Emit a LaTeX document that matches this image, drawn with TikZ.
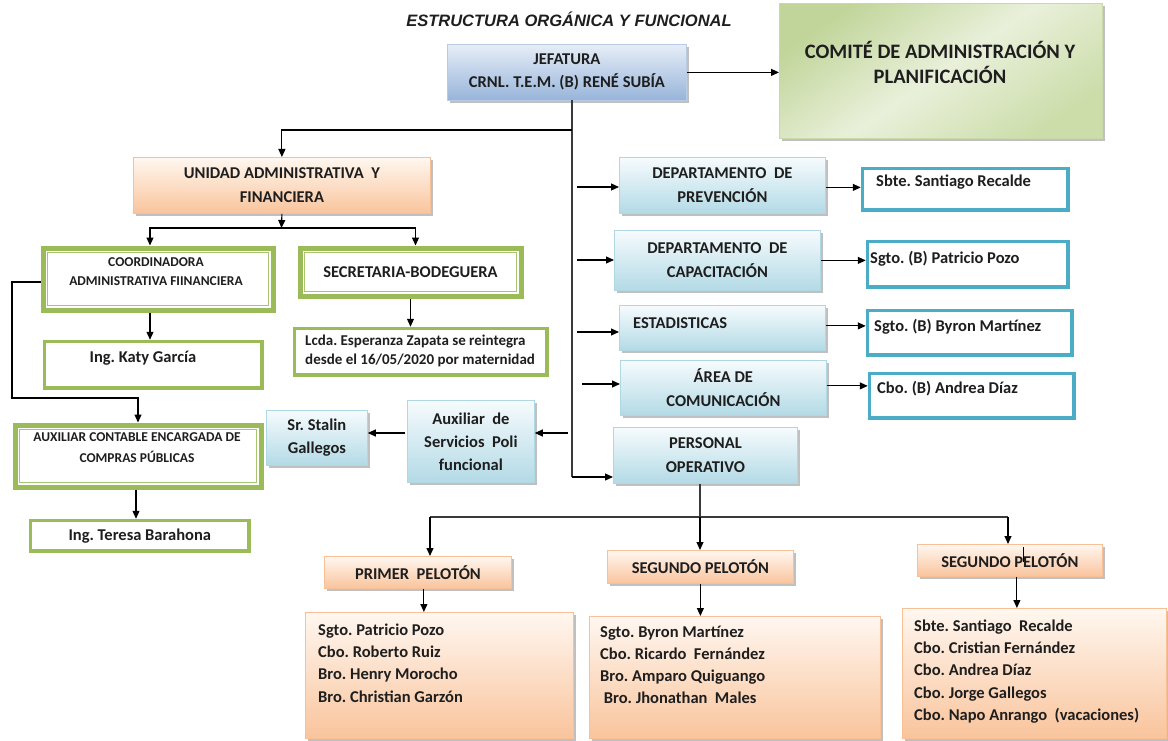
\documentclass[tikz,border=0pt]{standalone}
\usepackage{fontspec}
\setmainfont{Carlito}
\newfontfamily\ttlfont{Liberation Sans}
\usetikzlibrary{arrows.meta,shadows}
\frenchspacing
\definecolor{txt}{HTML}{1E1E1E}
\definecolor{grn}{HTML}{9BBB59}
\definecolor{grnin}{HTML}{A9C46F}
\definecolor{tealb}{HTML}{4BACC6}
\definecolor{btop}{HTML}{F6FBFD}
\definecolor{bbot}{HTML}{B3DAE6}
\definecolor{bline}{HTML}{B0D8E4}
\definecolor{jtop}{HTML}{E6EDF7}
\definecolor{jbot}{HTML}{97B4DA}
\definecolor{jline}{HTML}{B8CCE4}
\definecolor{otop}{HTML}{FFF7F0}
\definecolor{obot}{HTML}{F9C49C}
\definecolor{oline}{HTML}{F8C096}
\definecolor{ctop}{HTML}{C1D59A}
\definecolor{cmid}{HTML}{E9F0DA}
\definecolor{cbot}{HTML}{CCDDAA}
\definecolor{cline}{HTML}{C9D9A8}
\definecolor{lcol}{HTML}{3A3A3A}
\newcommand\dblin[1]{\draw[grnin, line width=1.3pt] ([shift={(7,7)}]#1.north west) rectangle ([shift={(-7,-7)}]#1.south east);}
\begin{document}
\begin{tikzpicture}[x=1pt,y=-1pt,
 bx/.style={inner sep=0pt, anchor=north west, align=center, text=txt, font=\bfseries\fontsize{16.5}{24}\selectfont},
 shd/.style={drop shadow={shadow xshift=2.5pt, shadow yshift=-2.5pt, fill=black!55, opacity=0.45}},
 blueb/.style={bx, shd, top color=btop, bottom color=bbot, draw=bline, line width=0.8pt},
 jefb/.style={bx, shd, top color=jtop, bottom color=jbot, draw=jline, line width=0.8pt},
 orab/.style={bx, shd, top color=otop, bottom color=obot, draw=oline, line width=0.8pt},
 comb/.style={bx, shd, top color=ctop, bottom color=cbot, middle color=cmid, shading angle=35, draw=cline, line width=0.8pt},
 grb/.style={bx, draw=grn, line width=3.5pt, fill=white},
 dgrb/.style={bx, draw=grn, line width=5pt, fill=white},
 tlb/.style={bx, draw=tealb, line width=3.5pt, fill=white},
 lbl/.style={inner sep=0pt, text=txt, align=left, font=\bfseries\fontsize{16.5}{22.3}\selectfont},
 arr/.style={draw=black, line width=1.1pt, -{Triangle[length=8pt,width=7pt]}},
 ln/.style={draw=lcol, line width=1.1pt}]
\useasboundingbox (0,0) rectangle (1168,741);

% title
\node[inner sep=0pt, text=txt, font=\ttlfont\bfseries\itshape\fontsize{16.5}{20}\selectfont] (title) at (569,19) {ESTRUCTURA ORGÁNICA Y FUNCIONAL};

% top
\node[jefb, minimum width=239pt, minimum height=56pt, font=\bfseries\fontsize{16.5}{23}\selectfont] (jef) at (447,44) {JEFATURA\\CRNL. T.E.M. (B) RENÉ SUBÍA};
\node[comb, minimum width=323pt, minimum height=135pt] (com) at (779,3) {};
\node[lbl, align=center, font=\bfseries\fontsize{20.5}{25}\selectfont] (comt) at (940,62) {COMITÉ DE ADMINISTRACIÓN Y\\PLANIFICACIÓN};

% left branch
\node[orab, minimum width=297pt, minimum height=56pt] (uni) at (133,157) {UNIDAD ADMINISTRATIVA\ \ Y\\FINANCIERA};
\node[dgrb, minimum width=230pt, minimum height=62pt] (coor) at (40.5,245.5) {};
\dblin{coor}
\node[lbl, align=center, font=\bfseries\fontsize{13.5}{19}\selectfont] (coort) at (156,271.5) {COORDINADORA\\ADMINISTRATIVA FIINANCIERA};
\node[dgrb, minimum width=221pt, minimum height=48pt] (sec) at (297.5,245.5) {SECRETARIA-BODEGUERA};
\dblin{sec}
\node[grb, minimum width=252.5pt, minimum height=46.5pt] (lcda) at (292.75,326.75) {};
\node[lbl, anchor=north west, font=\bfseries\fontsize{15}{19}\selectfont] (lcdat) at (305,334.5) {Lcda. Esperanza Zapata se reintegra\\desde el 16/05/2020 por maternidad};
\node[grb, minimum width=217.5pt, minimum height=46.5pt] (katy) at (42.75,339.75) {};
\node[lbl, anchor=base] (katyt) at (143,362.5) {Ing. Katy García};
\node[dgrb, minimum width=246pt, minimum height=62pt] (auxc) at (12.5,422.5) {};
\dblin{auxc}
\node[lbl, align=center, font=\bfseries\fontsize{13.5}{21}\selectfont] (auxct) at (137,447.5) {AUXILIAR CONTABLE ENCARGADA DE\\COMPRAS PÚBLICAS};
\node[grb, minimum width=218.5pt, minimum height=30.5pt] (ter) at (28.75,518.75) {Ing. Teresa Barahona};
\node[blueb, minimum width=101pt, minimum height=55pt, font=\bfseries\fontsize{16.5}{23}\selectfont] (stal) at (266,410) {Sr. Stalin\\Gallegos};
\node[blueb, minimum width=127pt, minimum height=82pt, font=\bfseries\fontsize{16.5}{23}\selectfont] (serv) at (407,400) {Auxiliar\ \ de\\Servicios\ \ Poli\\funcional};

% right branch
\node[blueb, minimum width=206pt, minimum height=56pt] (prev) at (619,157) {DEPARTAMENTO\ \ DE\\PREVENCIÓN};
\node[tlb, minimum width=205.5pt, minimum height=41.5pt] (sbte) at (860.75,166.75) {};
\node[lbl, anchor=base west] (sbtet) at (876,186.5) {Sbte. Santiago Recalde};
\node[blueb, minimum width=206pt, minimum height=60pt] (cap) at (614,230) {DEPARTAMENTO\ \ DE\\CAPACITACIÓN};
\node[tlb, minimum width=200.5pt, minimum height=45.5pt] (pat) at (865.75,239.75) {};
\node[lbl, anchor=base west] (patt) at (870,263.5) {Sgto. (B) Patricio Pozo};
\node[blueb, minimum width=206pt, minimum height=45pt] (est) at (619,305) {};
\node[lbl, anchor=base west] (estt) at (633,328.5) {ESTADISTICAS};
\node[tlb, minimum width=204.5pt, minimum height=44.5pt] (byr) at (865.75,308.75) {};
\node[lbl, anchor=base west] (byrt) at (874,331.5) {Sgto. (B) Byron Martínez};
\node[blueb, minimum width=206pt, minimum height=55pt] (area) at (620,360) {ÁREA DE\\COMUNICACIÓN};
\node[tlb, minimum width=204.5pt, minimum height=44.5pt] (andr) at (867.75,371.75) {};
\node[lbl, anchor=base west] (andrt) at (877,393.5) {Cbo. (B) Andrea Díaz};
\node[blueb, minimum width=184pt, minimum height=56pt] (pers) at (613,427) {PERSONAL\\OPERATIVO};

% pelotones
\node[orab, minimum width=187pt, minimum height=32pt] (p1) at (324,556) {PRIMER\ \ PELOTÓN};
\node[orab, minimum width=186pt, minimum height=33pt] (p2) at (607,550) {SEGUNDO PELOTÓN};
\node[orab, minimum width=185pt, minimum height=32pt] (p3) at (917,544) {SEGUNDO PELOTÓN};
\node[orab, minimum width=268pt, minimum height=126pt] (l1) at (305,612) {};
\node[lbl, anchor=north west] (l1t) at (318,623.5) {Sgto. Patricio Pozo\\Cbo. Roberto Ruiz\\Bro. Henry Morocho\\Bro. Christian Garzón};
\node[orab, minimum width=291pt, minimum height=122pt] (l2) at (589,616) {};
\node[lbl, anchor=north west] (l2t) at (600,625.5) {Sgto. Byron Martínez\\Cbo. Ricardo\ \ Fernández\\Bro. Amparo Quiguango\\\ Bro. Jhonathan\ \ Males};
\node[orab, minimum width=264pt, minimum height=130pt] (l3) at (902,608) {};
\node[lbl, anchor=north west] (l3t) at (914,619.5) {Sbte. Santiago\ \ Recalde\\Cbo. Cristian Fernández\\Cbo. Andrea Díaz\\Cbo. Jorge Gallegos\\Cbo. Napo Anrango\ \ (vacaciones)};

% connectors
\coordinate (tk) at (572,100);
\coordinate (tkb) at (572,477);
\coordinate (br) at (572,130);
\draw[arr] (jef.east) -- (jef.east -| com.west);
\draw[ln] (tk) -- (tkb);
\draw[arr] (tkb) -- (tkb -| pers.west);
\draw[arr] (br) -| (uni.north);
\coordinate (a1) at (577,187);
\coordinate (a2) at (577,260);
\coordinate (a3) at (577,332);
\coordinate (a4) at (582,384);
\coordinate (a5) at (568,433);
\draw[arr] (a1) -- (a1 -| prev.west);
\draw[arr] (a2) -- (a2 -| cap.west);
\draw[arr] (a3) -- (a3 -| est.west);
\draw[arr] (a4) -- (a4 -| area.west);
\draw[arr] (a5) -- (a5 -| serv.east);
\coordinate (a6) at (405,433);
\draw[arr] (a6) -- (a6 -| stal.east);
\draw[arr] ([yshift=-2pt]prev.east) -- ([yshift=-2pt]prev.east -| sbte.west);
\draw[arr] (cap.east) -- (cap.east -| pat.west);
\draw[arr] ([yshift=2pt]est.east) -- ([yshift=2pt]est.east -| byr.west);
\draw[arr] ([yshift=2pt]area.east) -- ([yshift=2pt]area.east -| andr.west);
% unidad
\coordinate (uj) at (281.5,228);
\draw[arr] (uni.south) -- (uj);
\draw[arr] (uj) -| ([xshift=-8pt]coor.north);
\draw[arr] (uj) -| ([xshift=5pt]sec.north);
\draw[arr] (sec.south) -- (sec.south |- lcda.north);
\draw[arr] ([xshift=-8pt]coor.south) -- ([xshift=-8pt]coor.south |- katy.north);
\coordinate (k1) at (12,398);
\draw[arr] ([yshift=-3pt]coor.west) -| (k1) -| (auxc.north);
\draw[arr] ([xshift=-2pt]auxc.south) -- ([xshift=-2pt]auxc.south |- ter.north);
% personal operativo
\coordinate (q1) at (430,517);
\coordinate (q2) at (700,517);
\coordinate (q3) at (1008,517);
\draw[ln] (q2 |- pers.south) -- (q2);
\draw[ln] (q1) -- (q3);
\draw[arr] (q1) -- (q1 |- p1.north);
\draw[arr] (q2) -- (q2 |- p2.north);
\draw[arr] (q3) -- (q3 |- p3.north);
\draw[line width=0.8pt] (1023,547) -- (1023,562);
\draw[arr] ([xshift=6pt]p1.south) -- ([xshift=6pt]p1.south |- l1.north);
\draw[arr] (p2.south) -- (p2.south |- l2.north);
\draw[arr] ([xshift=7pt]p3.south) -- ([xshift=7pt]p3.south |- l3.north);
\end{tikzpicture}
\end{document}
